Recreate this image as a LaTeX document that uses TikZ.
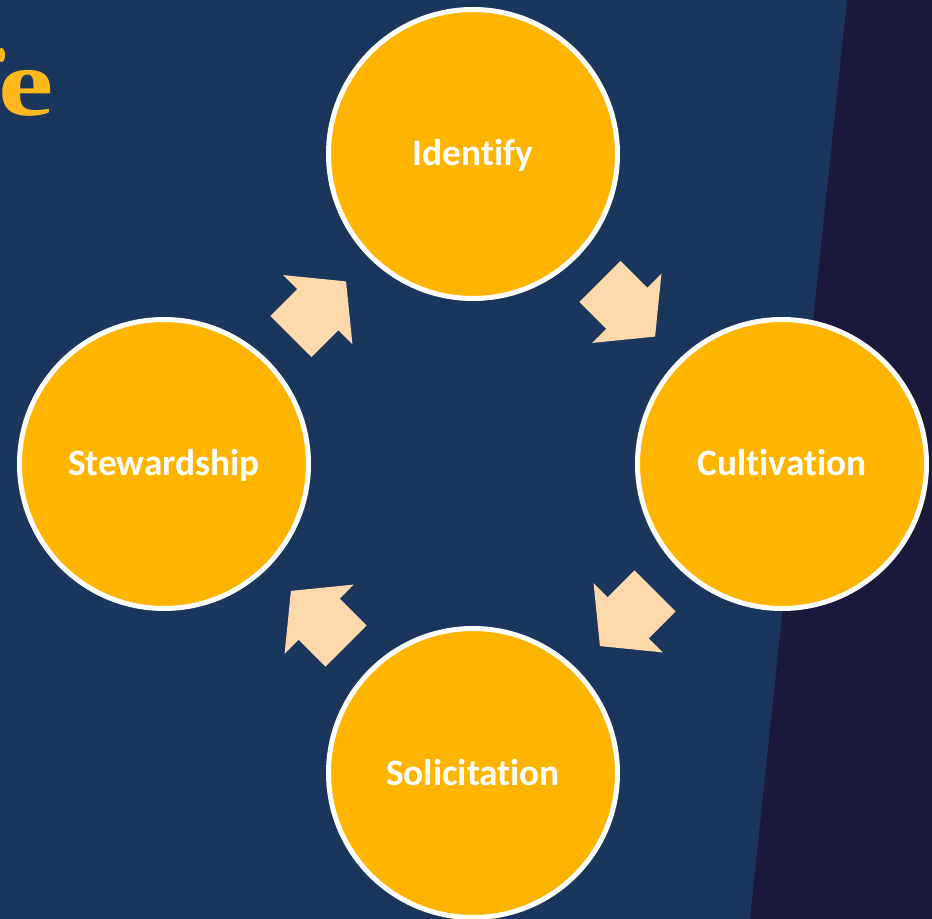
\documentclass[tikz,border=0pt]{standalone}
\usepackage{fontspec}
\setmainfont{Carlito}[Ligatures=NoCommon]
\newfontfamily\titlefont{Liberation Serif}
\usetikzlibrary{calc}
\definecolor{bgblue}{HTML}{1B365D}
\definecolor{bgdark}{HTML}{1B1A3B}
\definecolor{gold}{HTML}{FFB400}
\definecolor{titlegold}{HTML}{FFB81C}
\definecolor{peach}{HTML}{FDD8AA}
\tikzset{
  stage/.style={circle, fill=gold, draw=white, line width=3.75pt, minimum size=216.75pt, inner sep=0pt,
    text=white, font=\fontsize{28pt}{30pt}\selectfont\bfseries, text height=18pt, text depth=0pt},
  cyclearrow/.style={fill=peach, draw=none},
}
\newcommand{\blockarrow}[2]{%
  \fill[cyclearrow, shift={(#1)}, rotate=#2]
    (-29.25pt,-21.75pt) -- (-0.75pt,-21.75pt) -- (-0.75pt,-36.75pt) -- (29.25pt,0pt)
    -- (-0.75pt,36.75pt) -- (-0.75pt,21.75pt) -- (-29.25pt,21.75pt) -- cycle;}
\begin{document}
\begin{tikzpicture}[x=0.75pt, y=-0.75pt]
\useasboundingbox (0,0) rectangle (932,919);
\clip (0,0) rectangle (932,919);
\fill[bgblue] (0,0) rectangle (932,919);
\fill[bgdark] (847,0) -- (932,0) -- (932,919) -- (750,919) -- cycle;
% title fragment
\fill[titlegold] (1.5,55) ellipse [x radius=3.5, y radius=7];
\node[anchor=base west, inner sep=0pt, xscale=1.3, text=titlegold,
  font=\titlefont\fontsize{72pt}{80pt}\selectfont\bfseries] (title) at (-2,115.5) {e};
% stages
\node[stage] (identify) at (473,154) {Identify};
\node[stage] (cultivation) at (782,464) {Cultivation};
\node[stage] (solicitation) at (473,773) {Solicitation};
\node[stage] (stewardship) at (164,464) {Stewardship};
% arrows between stages
\coordinate (m1) at ($(identify)!0.5!(cultivation)$);
\coordinate (m2) at ($(cultivation)!0.5!(solicitation)$);
\coordinate (m3) at ($(solicitation)!0.5!(stewardship)$);
\coordinate (m4) at ($(stewardship)!0.5!(identify)$);
\blockarrow{m1}{-45}
\blockarrow{m2}{-135}
\blockarrow{m3}{135}
\blockarrow{m4}{45}
\end{tikzpicture}
\end{document}
